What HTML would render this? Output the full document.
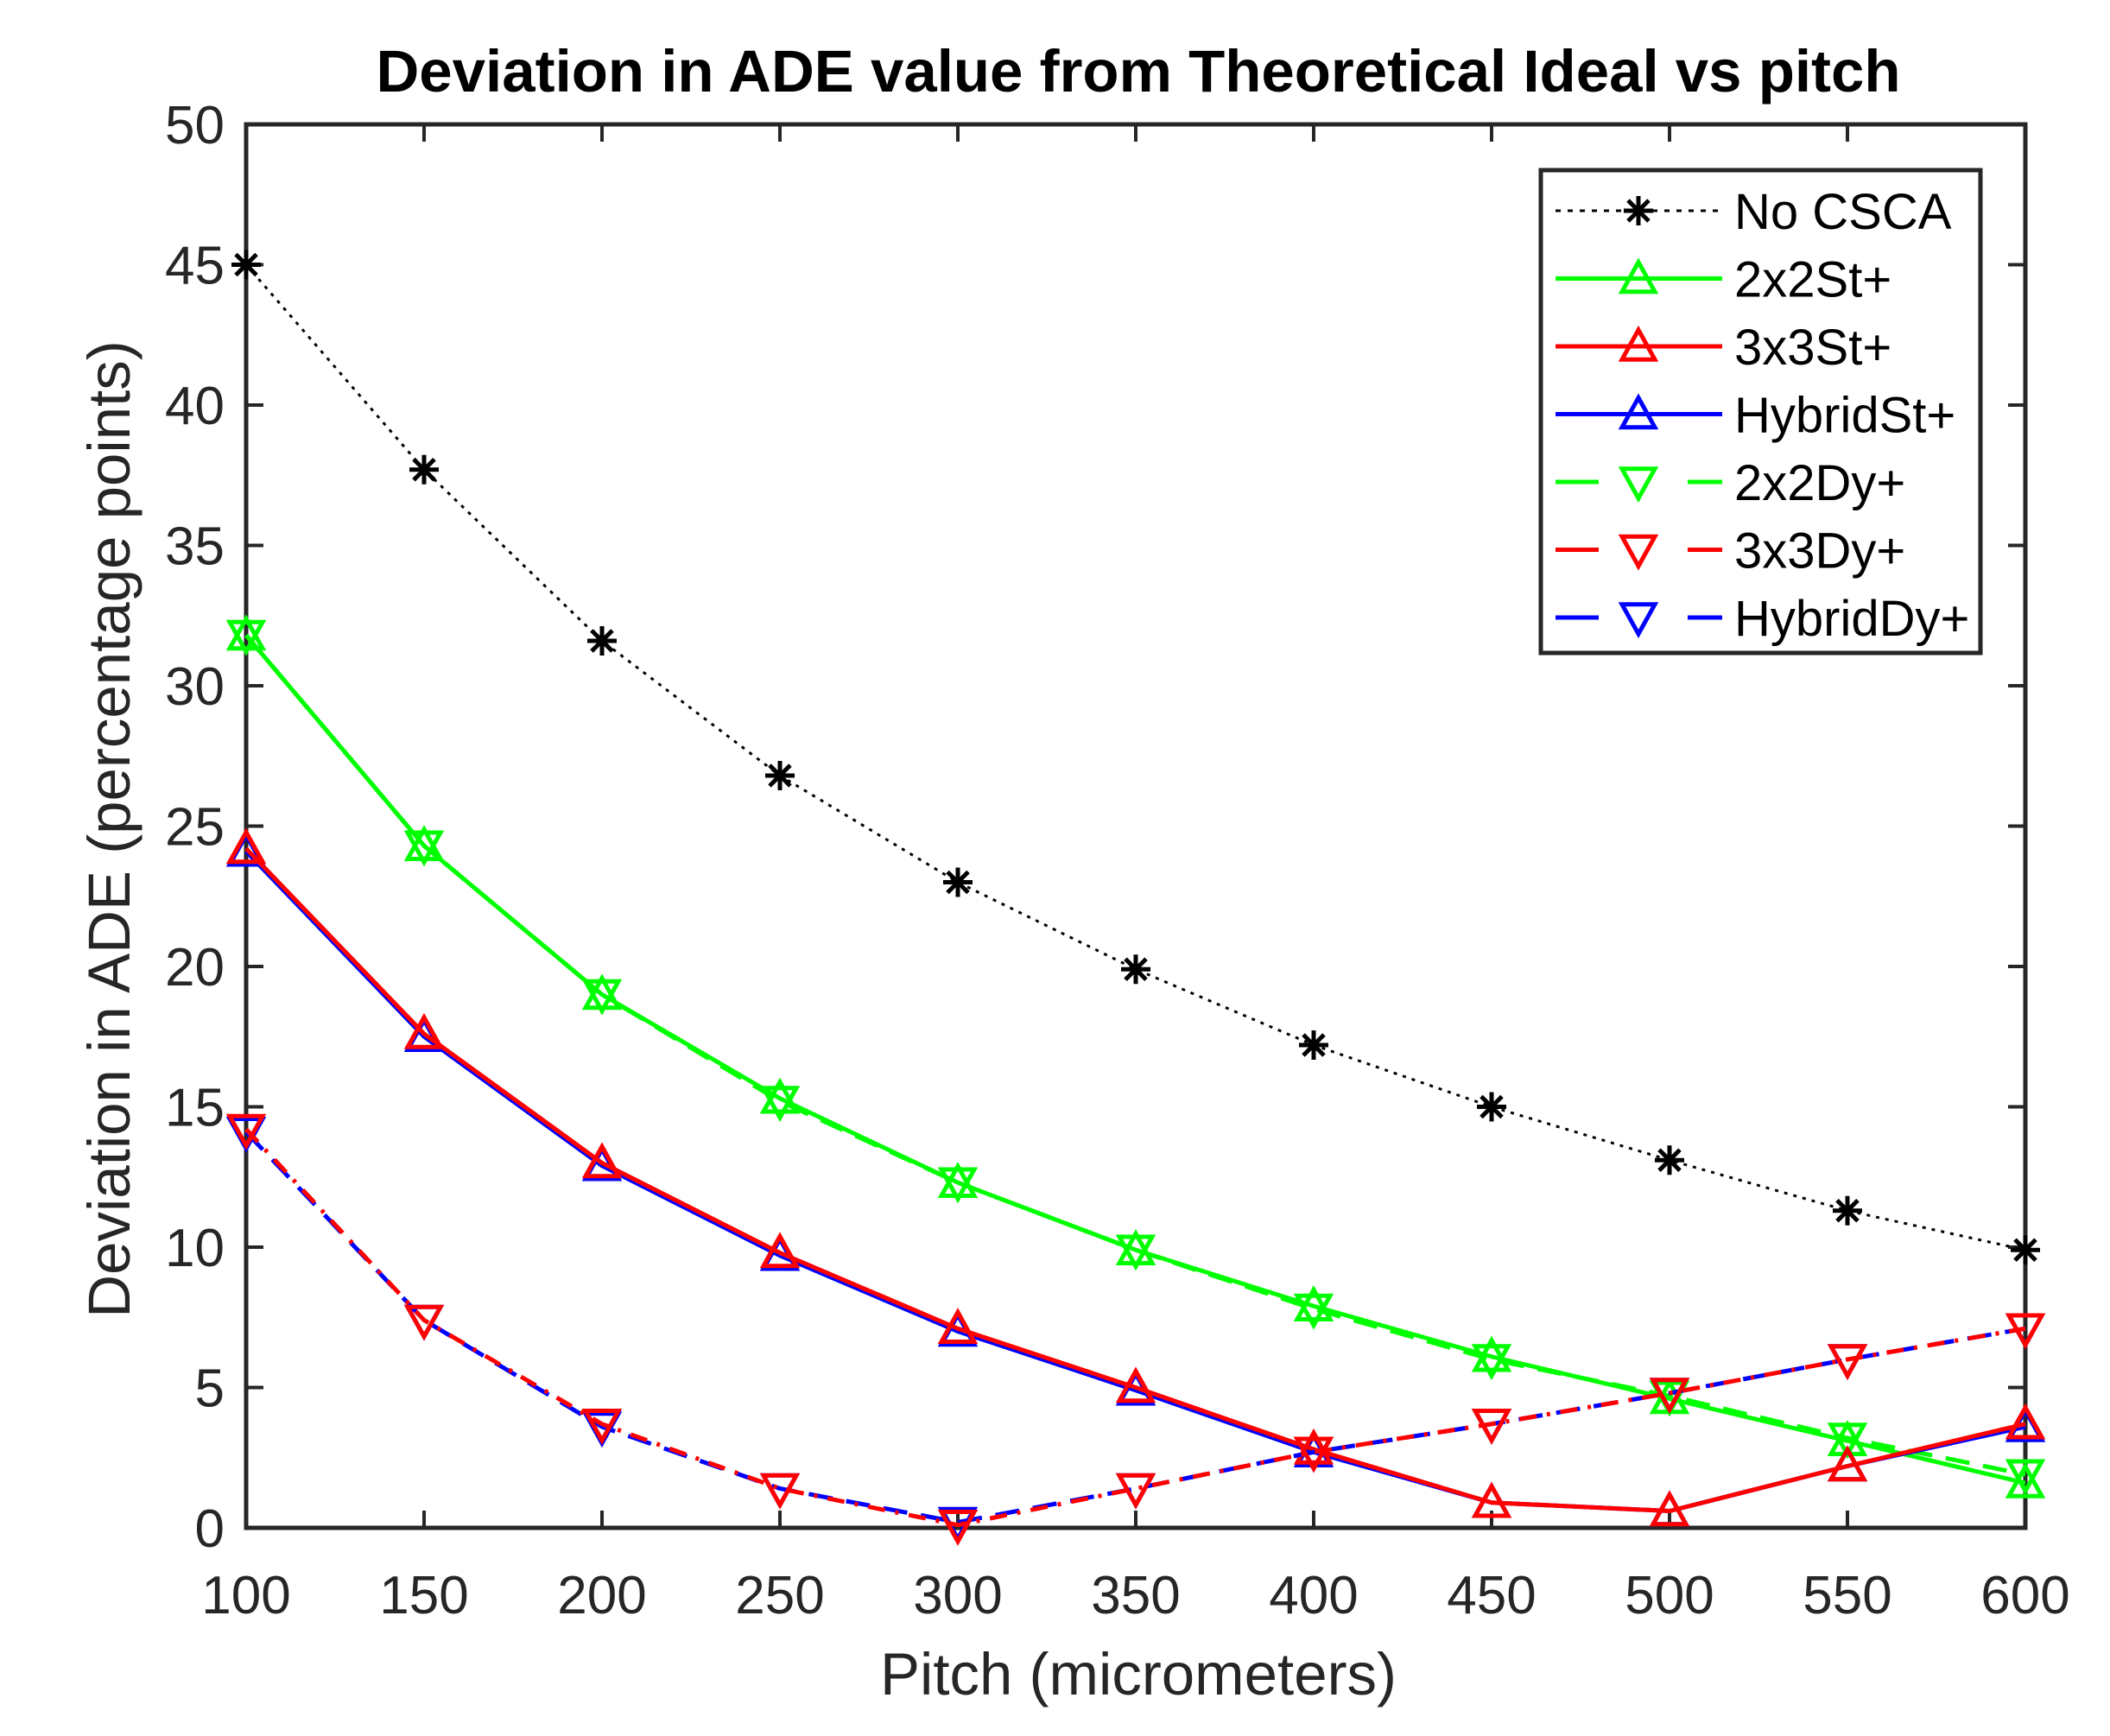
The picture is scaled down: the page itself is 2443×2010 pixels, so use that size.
<!DOCTYPE html>
<html><head><meta charset="utf-8"><style>
html,body{margin:0;padding:0;background:#fff;}
svg{display:block;font-family:"Liberation Sans",sans-serif;}
</style></head><body>
<svg id="chart" width="2443" height="2010" viewBox="0 0 2443 2010" xmlns="http://www.w3.org/2000/svg">
<rect x="0" y="0" width="2443" height="2010" fill="#fff"/>
<text x="1318" y="106" text-anchor="middle" font-size="69" font-weight="bold" fill="#000">Deviation in ADE value from Theoretical Ideal vs pitch</text>
<text x="1318" y="1962" text-anchor="middle" font-size="69" fill="#262626">Pitch (micrometers)</text>
<text transform="translate(150,960) rotate(-90)" text-anchor="middle" font-size="69" fill="#262626">Deviation in ADE (percentage points)</text>
<g id="grid"></g>
<g id="series"></g>
<g id="legend"></g>
</svg>
<script>
const xValues = [100,150,200,250,300,350,400,450,500,550,600];
const xTicks = [100,150,200,250,300,350,400,450,500,550,600];
const yTicks = [0,5,10,15,20,25,30,35,40,45,50];
const noCsca = [45,37.7,31.6,26.8,23,19.9,17.2,15,13.1,11.3,9.9];
const st2x2 = [31.8,24.3,19,15.3,12.3,9.9,7.9,6.1,4.6,3.1,1.6];
const st3x3 = [24.2,17.6,13,9.8,7.1,5.0,2.8,0.9,0.6,2.2,3.7];
const stHybrid = [24.1,17.5,12.9,9.7,7.0,4.9,2.7,0.9,0.6,2.2,3.6];
const dy2x2 = [31.8,24.3,19,15.2,12.3,9.9,7.8,6.0,4.7,3.2,1.9];
const dy3x3 = [14.2,7.4,3.7,1.4,0.1,1.4,2.7,3.7,4.8,6.0,7.1];
const dyHybrid = [14.1,7.4,3.6,1.4,0.2,1.4,2.7,3.7,4.8,6.0,7.1];
const legendLabels = ["No CSCA","2x2St+","3x3St+","HybridSt+","2x2Dy+","3x3Dy+","HybridDy+"];

const L=285,R=2345,T=144,B=1769;
const X=v=>L+(v-100)/500*(R-L);
const Y=v=>B-v/50*(B-T);
const NS="http://www.w3.org/2000/svg";
function mk(tag,attrs,parent){const e=document.createElementNS(NS,tag);for(const k in attrs)e.setAttribute(k,attrs[k]);parent.appendChild(e);return e;}
const axes=document.getElementById('grid');
const ser=document.getElementById('series');
const leg=document.getElementById('legend');
const AX="#262626";

xTicks.forEach(t=>{
  const a=mk('line',{x1:X(t),x2:X(t),y1:B,y2:B-20,stroke:AX,'stroke-width':4},axes);
  
  const b=mk('line',{x1:X(t),x2:X(t),y1:T,y2:T+20,stroke:AX,'stroke-width':4},axes);
  
  const tx=mk('text',{x:X(t),y:1868,'text-anchor':'middle','font-size':62,fill:AX},axes);
  tx.textContent=t;
  
});
yTicks.forEach(t=>{
  const a=mk('line',{x1:L,x2:L+20,y1:Y(t),y2:Y(t),stroke:AX,'stroke-width':4},axes);
  
  const b=mk('line',{x1:R,x2:R-20,y1:Y(t),y2:Y(t),stroke:AX,'stroke-width':4},axes);
  
  const tx=mk('text',{x:260,y:Y(t)+22,'text-anchor':'end','font-size':62,fill:AX},axes);
  tx.textContent=t;
  
});
const frame=mk('rect',{x:L,y:T,width:R-L,height:B-T,fill:'none',stroke:AX,'stroke-width':5},axes);


function marker(type,cx,cy,color,parent){
  const s=19;
  let e;
  if(type==='up'){e=mk('polygon',{points:`${cx},${cy-s} ${cx+s},${cy+s*0.8} ${cx-s},${cy+s*0.8}`,fill:'none',stroke:color,'stroke-width':5},parent);}
  else if(type==='down'){e=mk('polygon',{points:`${cx},${cy+s} ${cx+s},${cy-s*0.8} ${cx-s},${cy-s*0.8}`,fill:'none',stroke:color,'stroke-width':5},parent);}
  else{
    e=mk('g',{},parent);
    const r=17;
    mk('line',{x1:cx-r,x2:cx+r,y1:cy,y2:cy,stroke:color,'stroke-width':5},e);
    mk('line',{x1:cx,x2:cx,y1:cy-r,y2:cy+r,stroke:color,'stroke-width':5},e);
    mk('line',{x1:cx-12,x2:cx+12,y1:cy-12,y2:cy+12,stroke:color,'stroke-width':5},e);
    mk('line',{x1:cx-12,x2:cx+12,y1:cy+12,y2:cy-12,stroke:color,'stroke-width':5},e);
  }
  return e;
}
const defs=[
 {d:noCsca,c:'#000',dash:'4 7',m:'star',w:3,name:'no-csca'},
 {d:st2x2,c:'#00ff00',dash:'',m:'up',w:5,name:'2x2st'},
 {d:dy2x2,c:'#00ff00',dash:'28 16',m:'down',w:5,name:'2x2dy'},
 {d:stHybrid,c:'#0000ff',dash:'',m:'up',w:5,name:'hybridst'},
 {d:st3x3,c:'#ff0000',dash:'',m:'up',w:5,name:'3x3st'},
 {d:dyHybrid,c:'#0000ff',dash:'28 16',m:'down',w:5,name:'hybriddy'},
 {d:dy3x3,c:'#ff0000',dash:'20 12 4 12',m:'down',w:5,name:'3x3dy'},
];
defs.forEach(s=>{
  const g=mk('g',{},ser);
  
  const pts=s.d.map((v,i)=>X(xValues[i])+','+Y(v)).join(' ');
  const pl=mk('polyline',{points:pts,fill:'none',stroke:s.c,'stroke-width':s.w,'stroke-dasharray':s.dash},g);
  
  s.d.forEach((v,i)=>{
    const m=marker(s.m,X(xValues[i]),Y(v),s.c,g);
    
  });
});
const box=mk('rect',{x:1784,y:197,width:509,height:559,fill:'#fff',stroke:AX,'stroke-width':5},leg);

const legStyle=[
 {c:'#000',dash:'6 8',m:'star'},
 {c:'#00ff00',dash:'',m:'up'},
 {c:'#ff0000',dash:'',m:'up'},
 {c:'#0000ff',dash:'',m:'up'},
 {c:'#00ff00',dash:'50 103',m:'down'},
 {c:'#ff0000',dash:'50 103',m:'down'},
 {c:'#0000ff',dash:'50 103',m:'down'},
];
legendLabels.forEach((lab,i)=>{
  const y=244+i*78.5;
  const g=mk('g',{},leg);
  
  const st=legStyle[i];
  mk('line',{x1:1801,x2:1994,y1:y,y2:y,stroke:st.c,'stroke-width':i===0?3:5,'stroke-dasharray':st.dash},g);
  marker(st.m,1897,y,st.c,g);
  const t=mk('text',{x:2008,y:y+21,'font-size':58,fill:'#000'},g);
  t.textContent=lab;
});
</script>
</body></html>
